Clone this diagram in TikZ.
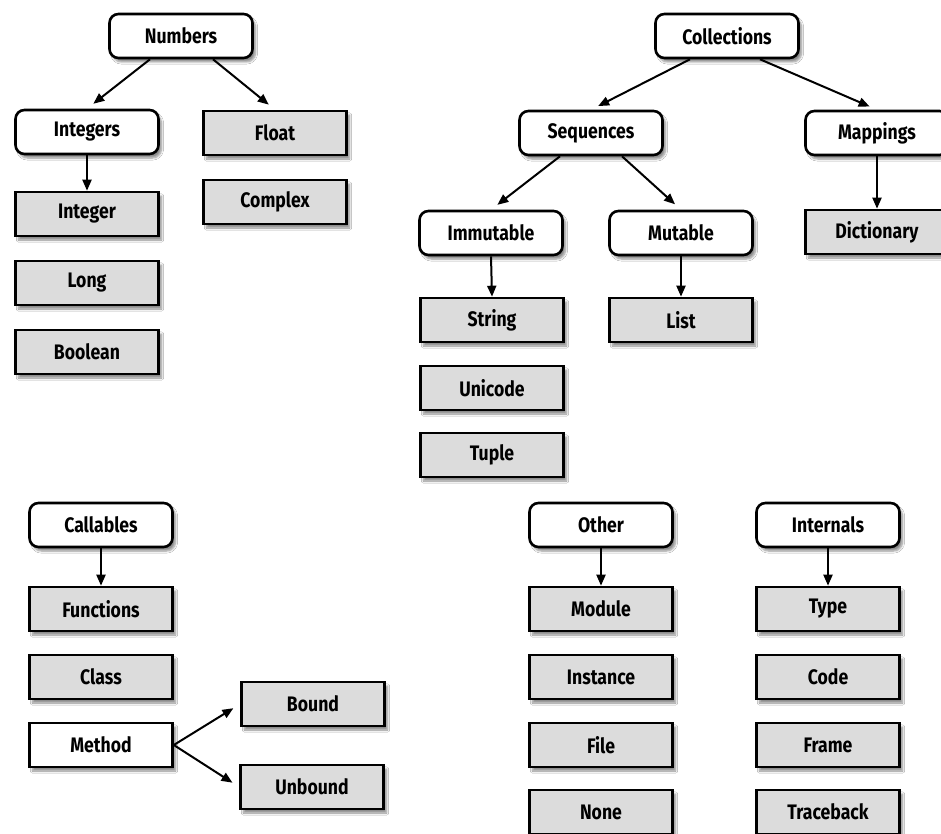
\documentclass[tikz,border=0pt]{standalone}
\usepackage{fontspec}
\setmainfont{Fira Sans}[FakeStretch=0.84]
\usetikzlibrary{arrows.meta,shadows.blur}

\definecolor{leafgray}{RGB}{220,220,220}

\tikzset{
  base/.style={draw=black, line width=2.6pt, minimum width=143pt, minimum height=44pt,
    font=\fontsize{21}{24}\selectfont\bfseries, inner sep=0pt,
    blur shadow={shadow xshift=3pt, shadow yshift=-4pt, shadow blur steps=6, shadow opacity=45}},
  group/.style={base, fill=white, rounded corners=9pt},
  leaf/.style={base, fill=leafgray},
  plain/.style={base, fill=white},
  link/.style={line width=2pt, -{Triangle[length=11pt,width=9pt]}},
  slant/.style={link, shorten >=8pt},
}

\begin{document}
\begin{tikzpicture}[x=1pt,y=-1pt]
  \useasboundingbox[fill=white] (0,0) rectangle (941,834);

  % numeric types
  \node[group] (num)   at (181,36)  {Numbers};
  \node[group] (ints)  at (87,132)  {Integers};
  \node[leaf]  (float) at (275,133) {Float};
  \node[leaf]  (cplx)  at (275,202) {Complex};
  \node[leaf]  (int)   at (87,214)  {Integer};
  \node[leaf]  (long)  at (87,283)  {Long};
  \node[leaf]  (bool)  at (87,352)  {Boolean};

  \draw[slant] ([xshift=-31pt]num.south) -- (ints.north);
  \draw[slant] ([xshift=32pt]num.south) -- (float.north);
  \draw[link] (ints.south) -- (int.north);

  % collections
  \node[group] (coll)  at (727,36)  {Collections};
  \node[group] (seq)   at (591,133) {Sequences};
  \node[group] (map)   at (877,133) {Mappings};
  \node[leaf]  (dict)  at (877,232) {Dictionary};
  \node[group] (imm)   at (491,233) {Immutable};
  \node[group] (mut)   at (681,233) {Mutable};
  \node[leaf]  (str)   at (492,320) {String};
  \node[leaf]  (uni)   at (492,388) {Unicode};
  \node[leaf]  (tup)   at (492,455) {Tuple};
  \node[leaf]  (list)  at (681,320) {List};

  \draw[slant] ([xshift=-37pt]coll.south) -- (seq.north);
  \draw[slant] ([xshift=33pt]coll.south) -- (map.north);
  \draw[slant] ([xshift=-31pt]seq.south) -- (imm.north);
  \draw[slant] ([xshift=31pt]seq.south) -- (mut.north);
  \draw[link] (map.south) -- (dict.north);
  \draw[link] (imm.south) -- (str.north);
  \draw[link] (mut.south) -- (list.north);

  % callables
  \node[group] (call)  at (101,525) {Callables};
  \node[leaf]  (func)  at (101,609) {Functions};
  \node[leaf]  (cls)   at (101,677) {Class};
  \node[plain] (meth)  at (101,745) {Method};
  \node[leaf]  (bound) at (313,704) {Bound};
  \node[leaf]  (unb)   at (312,787) {Unbound};

  \draw[link] (call.south) -- (func.north);
  \draw[slant] (meth.east) -- (bound.west);
  \draw[slant] (meth.east) -- (unb.west);

  % other types
  \node[group] (oth)   at (601,525) {Other};
  \node[leaf]  (mod)   at (601,609) {Module};
  \node[leaf]  (inst)  at (601,677) {Instance};
  \node[leaf]  (file)  at (601,745) {File};
  \node[leaf]  (none)  at (601,812) {None};

  \draw[link] (oth.south) -- (mod.north);

  % interpreter internals
  \node[group] (intl)  at (828,525) {Internals};
  \node[leaf]  (type)  at (828,609) {Type};
  \node[leaf]  (code)  at (828,677) {Code};
  \node[leaf]  (frame) at (828,745) {Frame};
  \node[leaf]  (tb)    at (828,812) {Traceback};

  \draw[link] (intl.south) -- (type.north);
\end{tikzpicture}
\end{document}
